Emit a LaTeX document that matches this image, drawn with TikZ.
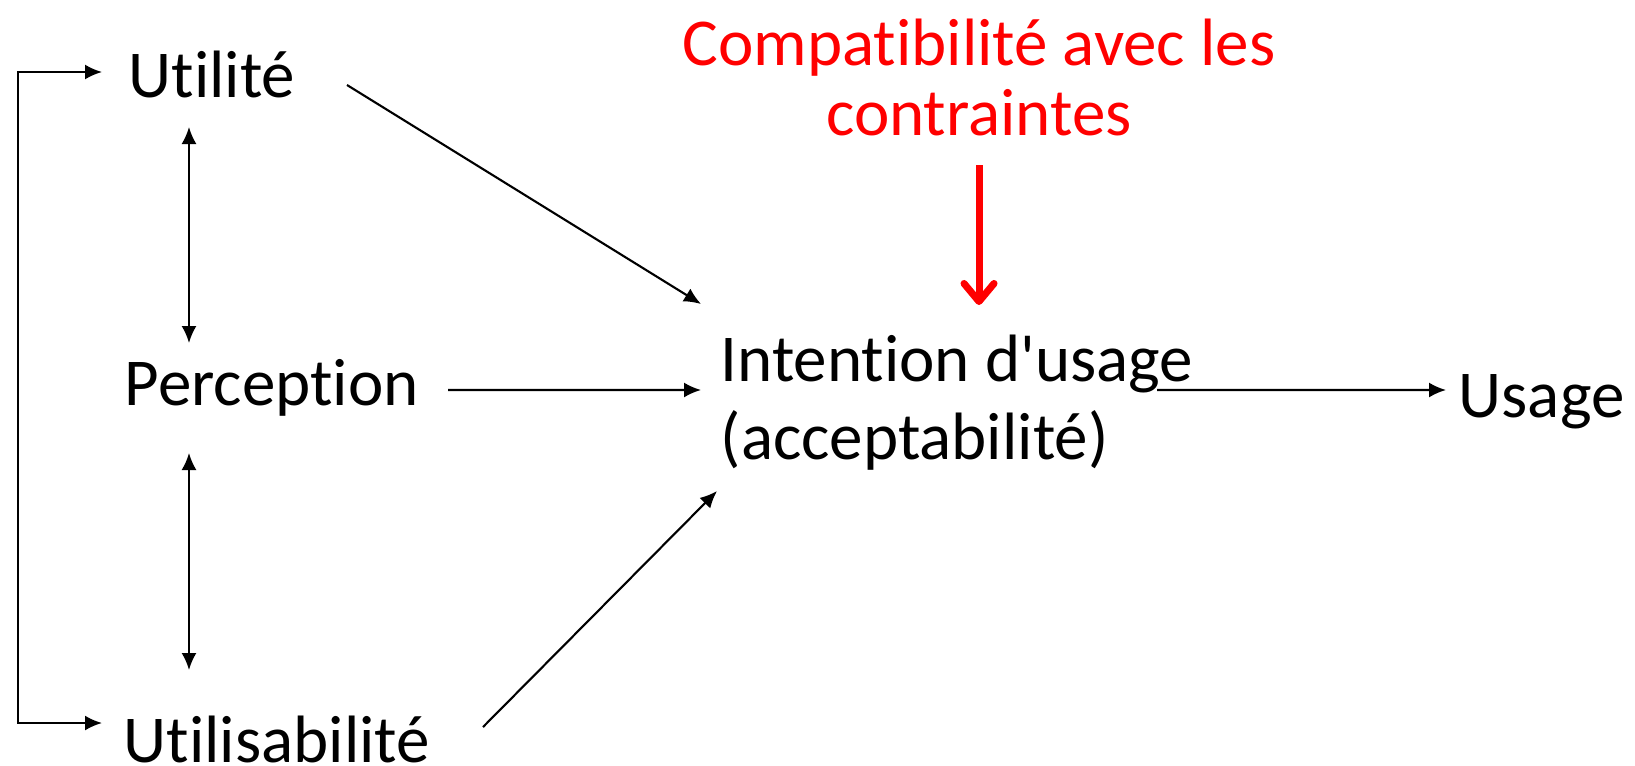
\documentclass[tikz,border=0pt]{standalone}
\usepackage{fontspec}
\setmainfont{Carlito}[Ligatures={CommonOff,TeXOff}]
\usetikzlibrary{arrows.meta,positioning}

\begin{document}
\begin{tikzpicture}
  [line cap=butt,
  % Styles
  label text/.style={inner sep=0pt,anchor=base west,font=\fontsize{0.67cm}{0.78cm}\selectfont},
  link/.style={line width=0.6pt,-{Latex[length=0.17cm,width=0.15cm]}},
  both link/.style={line width=0.6pt,{Latex[length=0.17cm,width=0.15cm]}-{Latex[length=0.17cm,width=0.15cm]}},
  alert arrow/.style={line width=2pt,alertcolor,-{Straight Barb[length=0.18cm,width=0.3cm,round]}}]
  % Colors
  \colorlet{alertcolor}{red}
  % The graphic
  \useasboundingbox (0,0) rectangle (16.35,-7.65);
  \node[label text] (util) at (1.28,-0.97) {Utilité};
  \node[label text] (perc) at (1.24,-4.05) {Perception};
  \node[label text] (utilis) at (1.23,-7.62) {Utilisabilité};
  % base of a two-line node sits on its last line
  \node[label text,align=left] (intent) at (7.20,-4.59) {Intention d'usage\\(acceptabilité)};
  \node[label text] (usage) at (14.58,-4.17) {Usage};
  \node[inner sep=0pt,anchor=base,align=center,text=alertcolor,
    font=\fontsize{0.67cm}{0.70cm}\selectfont] (constraint) at (9.79,-1.35)
    {Compatibilité avec les\\contraintes};
  % loop on the left
  \draw[both link] ([shift={(-0.26,0.25)}]util.base west) -- ++(-0.84,0)
    |- ([shift={(-0.21,0.39)}]utilis.base west);
  % between the perceptions
  \draw[both link] ([shift={(0.61,-0.30)}]util.base west) -- ([shift={(0.65,0.62)}]perc.base west);
  \draw[both link] ([shift={(0.65,-0.48)}]perc.base west) -- ([shift={(0.66,0.92)}]utilis.base west);
  % towards the intention
  \draw[link] ([shift={(2.19,0.12)}]util.base west) -- ([shift={(-0.19,1.55)}]intent.base west);
  \draw[link] ([shift={(3.24,0.15)}]perc.base west) -- ([shift={(-0.19,0.69)}]intent.base west);
  \draw[link] ([shift={(3.60,0.35)}]utilis.base west) -- ([shift={(-0.03,-0.32)}]intent.base west);
  \draw[link] ([shift={(4.37,0.69)}]intent.base west) -- ([shift={(-0.12,0.27)}]usage.base west);
  \draw[alert arrow] ([yshift=-0.30cm]constraint.base) -- ([shift={(2.59,1.54)}]intent.base west);
\end{tikzpicture}
\end{document}
